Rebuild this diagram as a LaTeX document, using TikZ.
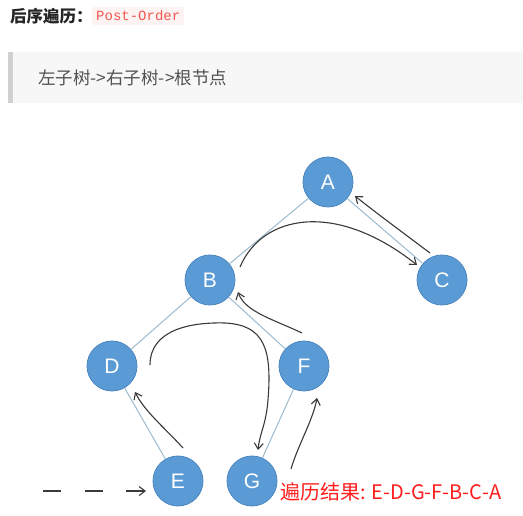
\documentclass[tikz,border=0pt]{standalone}
\usepackage{fontspec}
\setmainfont{Noto Sans CJK SC}
\newfontfamily\cjk{Noto Sans CJK SC}
\newfontfamily\codefont{Liberation Mono}
\newfontfamily\nodefont{Liberation Sans}
\usetikzlibrary{arrows.meta}
\definecolor{nodefill}{HTML}{5B9BD5}
\definecolor{nodeline}{HTML}{4A86BE}
\definecolor{edgecol}{HTML}{9DBBD0}
\definecolor{pencol}{HTML}{3A3A3A}
\definecolor{codered}{HTML}{F2574F}
\definecolor{codebg}{HTML}{FDF3F3}
\definecolor{quotebg}{HTML}{F7F7F7}
\definecolor{quotebar}{HTML}{D0D0D0}
\definecolor{resred}{HTML}{FF1E1E}
\begin{document}
\begin{tikzpicture}[x=1pt,y=-1pt,
  treenode/.style={circle,fill=nodefill,draw=nodeline,line width=0.8pt,minimum size=50pt,inner sep=0pt,text=white,font=\nodefont\fontsize{21}{21}\selectfont},
  treeedge/.style={draw=edgecol,line width=1pt},
  pen/.style={draw=pencol,line width=1.1pt,-{Straight Barb[length=6pt,width=9pt]}},
  pendash/.style={draw=pencol,line width=1.3pt,dash pattern=on 18pt off 24pt},
]
\useasboundingbox (0,0) rectangle (523,516);
\fill[white] (0,0) rectangle (523,516);
% header
\node[anchor=west,inner sep=0pt,font=\cjk\bfseries\fontsize{16.5}{16.5}\selectfont,text=black!85] (title) at (10,16) {后序遍历：};
\node[anchor=west,fill=codebg,rounded corners=3pt,inner xsep=4pt,inner ysep=4pt,text=codered,font=\codefont\fontsize{14}{14}\selectfont] (code) at (92,16) {Post-Order};
% quote block
\fill[quotebg] (8,52) rectangle (523,103);
\fill[quotebar] (8,52) rectangle (13,103);
\node[anchor=west,inner sep=0pt,text=black!68,font=\cjk\fontsize{17.5}{17.5}\selectfont] (quote) at (38,78) {左子树->右子树->根节点};
% nodes
\node[treenode] (A) at (328,182) {A};
\node[treenode] (B) at (210,280) {B};
\node[treenode] (C) at (442,280) {C};
\node[treenode] (D) at (112,366) {D};
\node[treenode] (F) at (304,366) {F};
\node[treenode] (E) at (178,481) {E};
\node[treenode] (G) at (252,481) {G};
% tree edges
\draw[treeedge] (A) -- (B);
\draw[treeedge] (A) -- (C);
\draw[treeedge] (B) -- (D);
\draw[treeedge] (B) -- (F);
\draw[treeedge] (D) -- (E);
\draw[treeedge] (F) -- (G);
% hand-drawn traversal arrows
\coordinate (b1) at ([shift={(30,-13)}]B.center);
\coordinate (c1) at ([shift={(-25,-15)}]C.center);
\draw[pen] (b1) .. controls (262,215) and (335,200) .. (c1);
\coordinate (c2) at ([shift={(-12,-27)}]C.center);
\coordinate (a1) at ([shift={(27,14)}]A.center);
\draw[pen] (c2) .. controls (402,232) and (375,212) .. (a1);
\coordinate (f1) at ([shift={(-2,-33)}]F.center);
\coordinate (b2) at ([shift={(28,12)}]B.center);
\draw[pen] (f1) .. controls (275,320) and (245,312) .. (b2);
\coordinate (d1) at ([shift={(38,-1)}]D.center);
\coordinate (g1) at ([shift={(6,-31)}]G.center);
\draw[pen] (d1) .. controls (150,330) and (190,322) .. (225,323) .. controls (265,325) and (272,350) .. (268,400) .. controls (266,425) and (260,432) .. (g1);
\coordinate (e1) at ([shift={(5,-33)}]E.center);
\coordinate (d2) at ([shift={(23,26)}]D.center);
\draw[pen] (e1) .. controls (165,428) and (145,412) .. (d2);
\coordinate (g2) at ([shift={(39,-12)}]G.center);
\coordinate (f2) at ([shift={(13,32)}]F.center);
\draw[pen] (g2) .. controls (298,445) and (313,420) .. (f2);
% dashed incoming arrow
\coordinate (start) at (43,491);
\coordinate (e2) at ([shift={(-32,10)}]E.center);
\draw[pendash] (start) -- (e2);
\draw[pen] ([shift={(-20,0)}]e2) -- (e2);
% result
\node[anchor=west,inner sep=0pt,text=resred,font=\cjk\fontsize{20}{20}\selectfont] (result) at (280,492) {遍历结果: E-D-G-F-B-C-A};
\end{tikzpicture}
\end{document}
